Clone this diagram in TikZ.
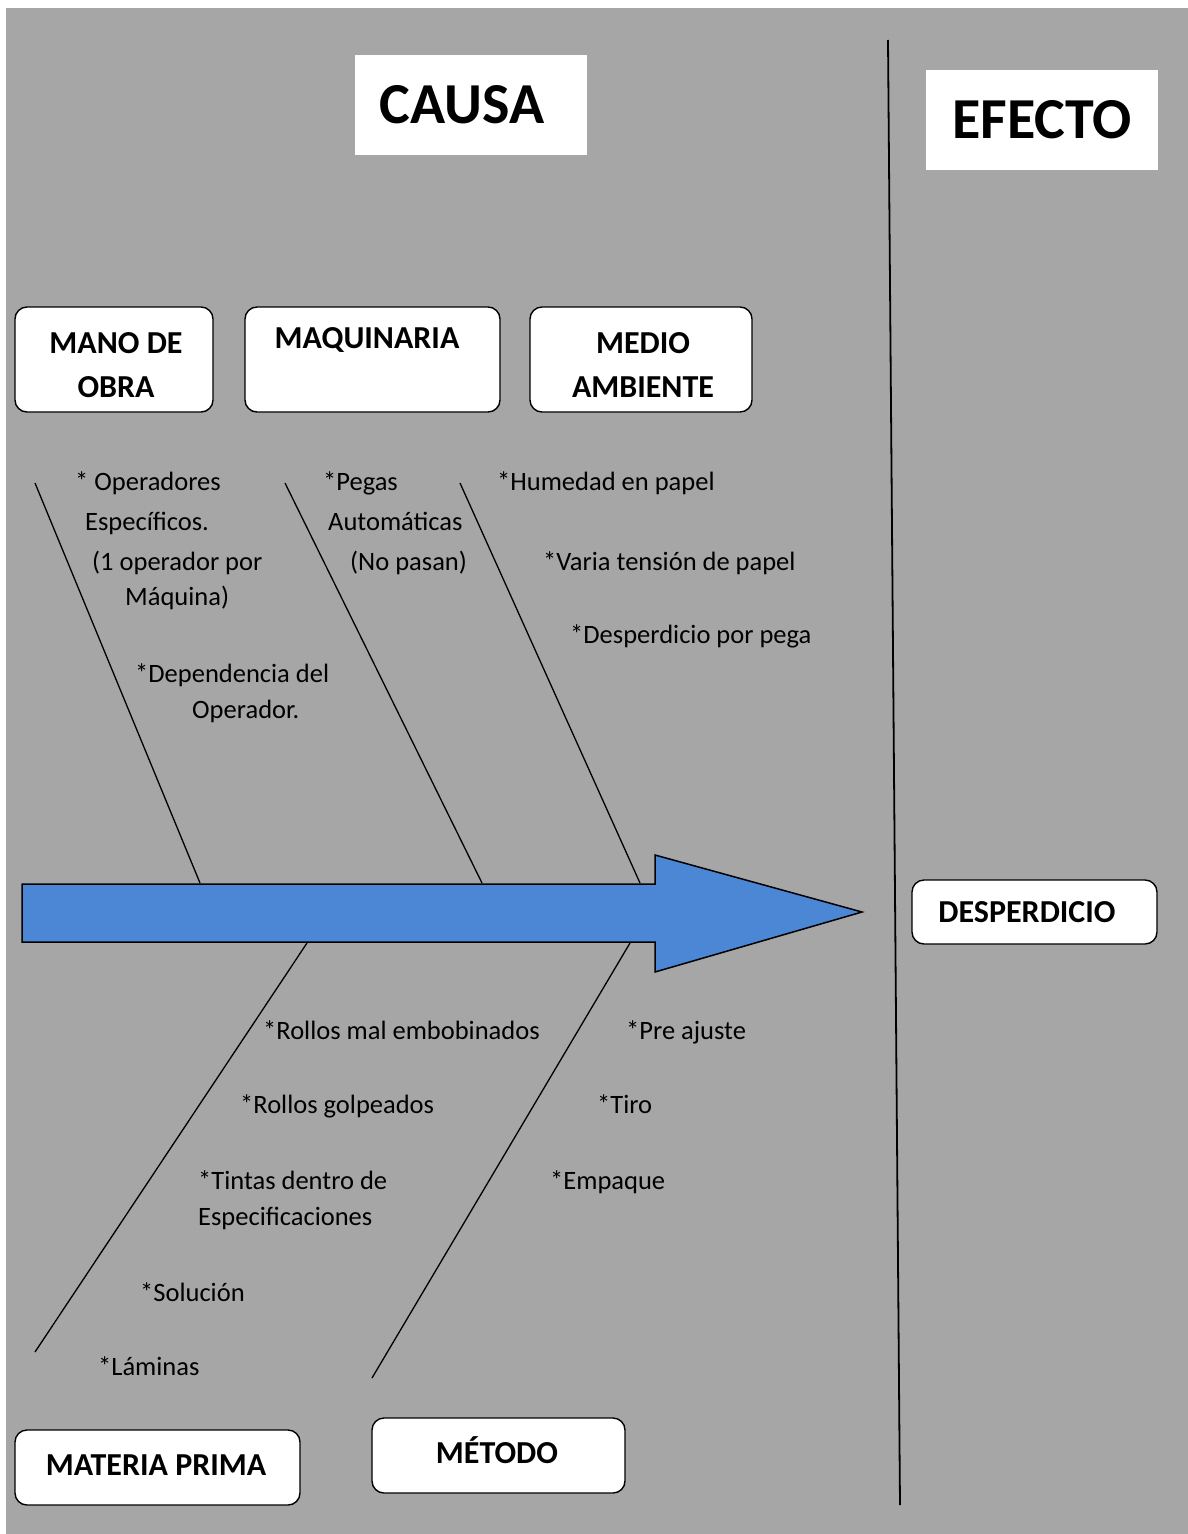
\documentclass[tikz,border=0pt]{standalone}
\usepackage{fontspec}
\setmainfont{Carlito}
\definecolor{bg}{RGB}{166,166,166}
\definecolor{arrowblue}{RGB}{76,135,214}
\begin{document}
\begin{tikzpicture}[x=1pt,y=-1pt,
  hdrbox/.style={fill=white, inner sep=0pt, font=\fontsize{58}{60}\selectfont\bfseries},
  catbox/.style={draw=black, line width=1.4pt, fill=white, rounded corners=12pt, inner sep=0pt},
  cattext/.style={inner sep=0pt, align=center, font=\fontsize{32}{44}\selectfont\bfseries},
  cause/.style={anchor=base west, inner sep=0pt, font=\fontsize{26.5}{30}\selectfont},
  rib/.style={line width=1.3pt, black}]
\useasboundingbox (0,0) rectangle (1188,1534);
\fill[white] (0,0) rectangle (1188,1534);
\fill[bg] (6,8) rectangle (1188,1534);

% divider
\coordinate (divtop) at (888,40);
\coordinate (divbot) at (900,1505);
\draw[line width=1.8pt] (divtop) -- (divbot);

% headers
\node[hdrbox, minimum width=232pt, minimum height=100pt] (causa) at (471,105) {\hspace*{-18pt}CAUSA};
\node[hdrbox, minimum width=232pt, minimum height=100pt] (efecto) at (1042,120) {EFECTO};

% category boxes
\node[catbox, minimum width=198pt, minimum height=105pt] (mano) at (114,359.5) {};
\node[cattext] (manot) at (116,365) {MANO DE\\OBRA};
\node[catbox, minimum width=255pt, minimum height=105pt] (maq) at (372.5,359.5) {};
\node[cattext] (maqt) at (367,340) {MAQUINARIA};
\node[catbox, minimum width=222pt, minimum height=105pt] (medio) at (641,359.5) {};
\node[cattext] (mediot) at (643,365) {MEDIO\\AMBIENTE};
\node[catbox, minimum width=245pt, minimum height=64pt] (desp) at (1034.5,912) {};
\node[cattext] (despt) at (1027,912) {DESPERDICIO};
\node[catbox, minimum width=285pt, minimum height=75pt] (mat) at (157.5,1467.5) {};
\node[cattext] (matt) at (156,1465) {MATERIA PRIMA};
\node[catbox, minimum width=253pt, minimum height=75pt] (met) at (498.5,1455.5) {};
\node[cattext] (mett) at (497,1450) {MÉTODO};

% ribs
\coordinate (r1a) at (35,483);  \coordinate (r1b) at (200,883);
\coordinate (r2a) at (285,483); \coordinate (r2b) at (482,883);
\coordinate (r3a) at (460,483); \coordinate (r3b) at (640,883);
\coordinate (r4a) at (307,943); \coordinate (r4b) at (35,1352);
\coordinate (r5a) at (630,943); \coordinate (r5b) at (372,1378);
\draw[rib] (r1a) -- (r1b);
\draw[rib] (r2a) -- (r2b);
\draw[rib] (r3a) -- (r3b);
\draw[rib] (r4a) -- (r4b);
\draw[rib] (r5a) -- (r5b);

% main arrow
\coordinate (tip) at (862,912);
\draw[fill=arrowblue, line width=1.5pt, line join=miter]
  (22,884) -- (655,884) -- (655,855) -- (tip) -- (655,972) -- (655,942) -- (22,942) -- cycle;

% causes: mano de obra
\node[cause] (c1) at (75,490) {* Operadores};
\node[cause] (c1b) at (85,530) {Específicos.};
\node[cause] (c1c) at (92,570) {(1 operador por};
\node[cause] (c1d) at (125,605) {Máquina)};
\node[cause] (c2) at (135,682) {*Dependencia del};
\node[cause] (c2b) at (192,718) {Operador.};
% maquinaria
\node[cause] (c3) at (323,490) {*Pegas};
\node[cause] (c3b) at (328,530) {Automáticas};
\node[cause] (c3c) at (350,570) {(No pasan)};
% medio ambiente
\node[cause] (c4) at (497,490) {*Humedad en papel};
\node[cause] (c5) at (543,570) {*Varia tensión de papel};
\node[cause] (c6) at (570,643) {*Desperdicio por pega};
% materia prima
\node[cause] (c7) at (263,1039) {*Rollos mal embobinados};
\node[cause] (c8) at (240,1113) {*Rollos golpeados};
\node[cause] (c9) at (198,1189) {*Tintas dentro de};
\node[cause] (c9b) at (198,1225) {Especificaciones};
\node[cause] (c10) at (140,1301) {*Solución};
\node[cause] (c11) at (98,1375) {*Láminas};
% metodo
\node[cause] (c12) at (626,1039) {*Pre ajuste};
\node[cause] (c13) at (597,1113) {*Tiro};
\node[cause] (c14) at (550,1189) {*Empaque};
\end{tikzpicture}
\end{document}
